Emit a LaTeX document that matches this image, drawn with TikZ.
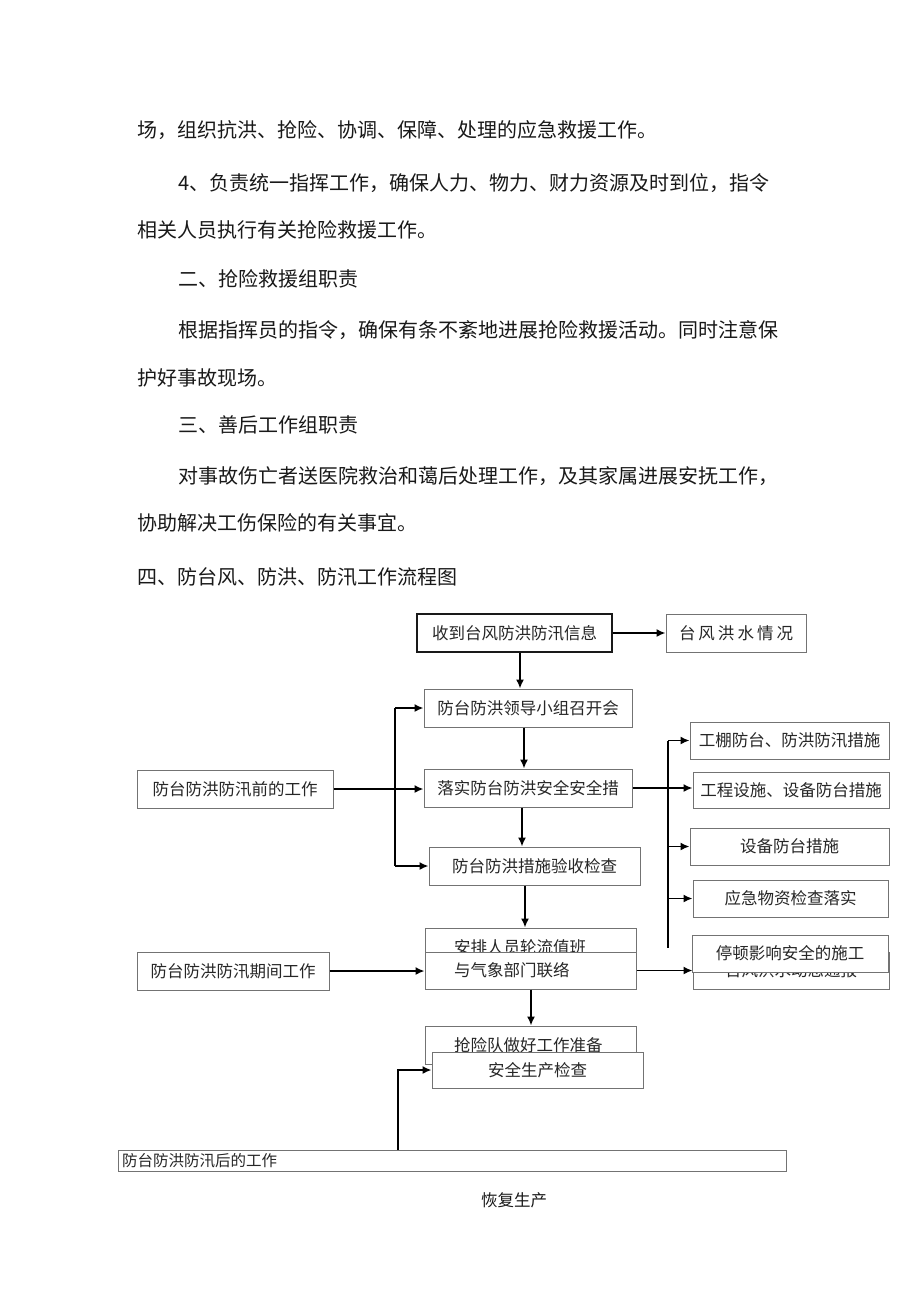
\documentclass[tikz,border=0pt]{standalone}
\usepackage{fontspec}
\setmainfont{Noto Sans CJK SC}
\usetikzlibrary{arrows.meta}
\newcommand{\fcfont}{\fontsize{16.5}{18}\selectfont}
\newcommand{\postfont}{\fontsize{15.5}{17}\selectfont}
\newcommand{\bodyfont}{\fontsize{20}{24}\selectfont}
\newcommand{\mybox}[7][]{\node[box,minimum width={#5-#3},minimum height={#6-#4},#1] (#2) at ({(#3+#5)/2},{(#4+#6)/2}) {#7};}
\begin{document}
\begin{tikzpicture}[x=1pt,y=-1pt,
  box/.style={draw=black!55, line width=1pt, fill=white, inner sep=0pt, font=\fcfont, text=black!85},
  arr/.style={line width=1.6pt, -{Latex[length=9pt,width=8pt]}},
  ln/.style={line width=1.6pt},
  body/.style={anchor=west, inner sep=0pt, font=\bodyfont, text=black!90}]
\useasboundingbox[fill=white] (0,0) rectangle (920,1301);

% body text
\node[body] (t1) at (137,130) {场，组织抗洪、抢险、协调、保障、处理的应急救援工作。};
\node[body] (t2) at (178,183) {4、负责统一指挥工作，确保人力、物力、财力资源及时到位，指令};
\node[body] (t3) at (137,230) {相关人员执行有关抢险救援工作。};
\node[body] (t4) at (178,279) {二、抢险救援组职责};
\node[body] (t5) at (178,330) {根据指挥员的指令，确保有条不紊地进展抢险救援活动。同时注意保};
\node[body] (t6) at (137,378) {护好事故现场。};
\node[body] (t7) at (178,425) {三、善后工作组职责};
\node[body] (t8) at (178,476) {对事故伤亡者送医院救治和蔼后处理工作，及其家属进展安抚工作，};
\node[body] (t9) at (137,523) {协助解决工伤保险的有关事宜。};
\node[body] (t10) at (137,577) {四、防台风、防洪、防汛工作流程图};

% boxes
\mybox[line width=1.8pt, draw=black!90]{s1}{417}{614}{612}{652}{收到台风防洪防汛信息}
\mybox{s2}{666}{614}{806}{652}{台\hspace{3pt}风\hspace{3pt}洪\hspace{3pt}水\hspace{3pt}情\hspace{3pt}况}
\mybox{s3}{424}{689}{632}{727}{防台防洪领导小组召开会}
\mybox{s4}{424}{769}{632}{807}{落实防台防洪安全安全措}
\mybox{s5}{429}{847}{640}{885}{防台防洪措施验收检查}
\mybox[text width=153, align=left]{s6a}{425}{928}{636}{966}{安排人员轮流值班}
\mybox[text width=153, align=left]{s6}{425}{952}{636}{989}{与气象部门联络}
\mybox{r1}{690}{722}{889}{759}{工棚防台、防洪防汛措施}
\mybox{r2}{693}{772}{889}{808}{工程设施、设备防台措施}
\mybox{r3}{690}{828}{889}{865}{设备防台措施}
\mybox{r4}{693}{880}{888}{917}{应急物资检查落实}
\mybox{r5}{693}{952}{889}{989}{台风洪水动态通报}
\mybox{r6}{692}{935}{888}{972}{停顿影响安全的施工}
\mybox[text width=153, align=left]{s7a}{425}{1026}{636}{1064}{抢险队做好工作准备}
\mybox{s7}{432}{1052}{643}{1088}{安全生产检查}
\mybox{pre}{137}{770}{333}{808}{防台防洪防汛前的工作}
\mybox{dur}{137}{952}{329}{990}{防台防洪防汛期间工作}
\mybox[font=\postfont, text width=660, align=left]{post}{118}{1150}{786}{1171}{防台防洪防汛后的工作}
\node[body, font=\fcfont] (rest) at (481,1200) {恢复生产};

% helper coordinates
\coordinate (xa) at (520,0);
\coordinate (xb) at (524,0);
\coordinate (xc) at (522,0);
\coordinate (xd) at (525,0);
\coordinate (xe) at (531,0);
\coordinate (bl) at (395,0);
\coordinate (br) at (668,0);
\coordinate (brb) at (668,948);
\coordinate (xp) at (398,0);

% connectors
\draw[arr] (s1.south -| xa) -- (s3.north -| xa);
\draw[arr] (s1.east) -- (s2.west);
\draw[arr] (s3.south -| xb) -- (s4.north -| xb);
\draw[arr] (s4.south -| xc) -- (s5.north -| xc);
\draw[arr] (s5.south -| xd) -- (s6a.north -| xd);
\draw[arr] (s6.south -| xe) -- (s7a.north -| xe);
\draw[arr] (pre.east) -- (pre.east -| s4.west);
\draw[ln] (bl |- s3) -- (bl |- s5);
\draw[arr] (bl |- s3) -- (s3.west);
\draw[arr] (bl |- s5) -- (s5.west);
\draw[arr] (dur.east) -- (dur.east -| s6.west);
\draw[arr] (s4.east) -- (s4.east -| r2.west);
\draw[ln] (br |- r1) -- (brb);
\draw[arr] (br |- r1) -- (r1.west);
\draw[arr] (br |- r3) -- (r3.west);
\draw[arr] (br |- r4) -- (r4.west);
\draw[arr] (s6.east) -- (s6.east -| r5.west);
\draw[arr] (post.north -| xp) |- (s7.west);
\end{tikzpicture}
\end{document}
